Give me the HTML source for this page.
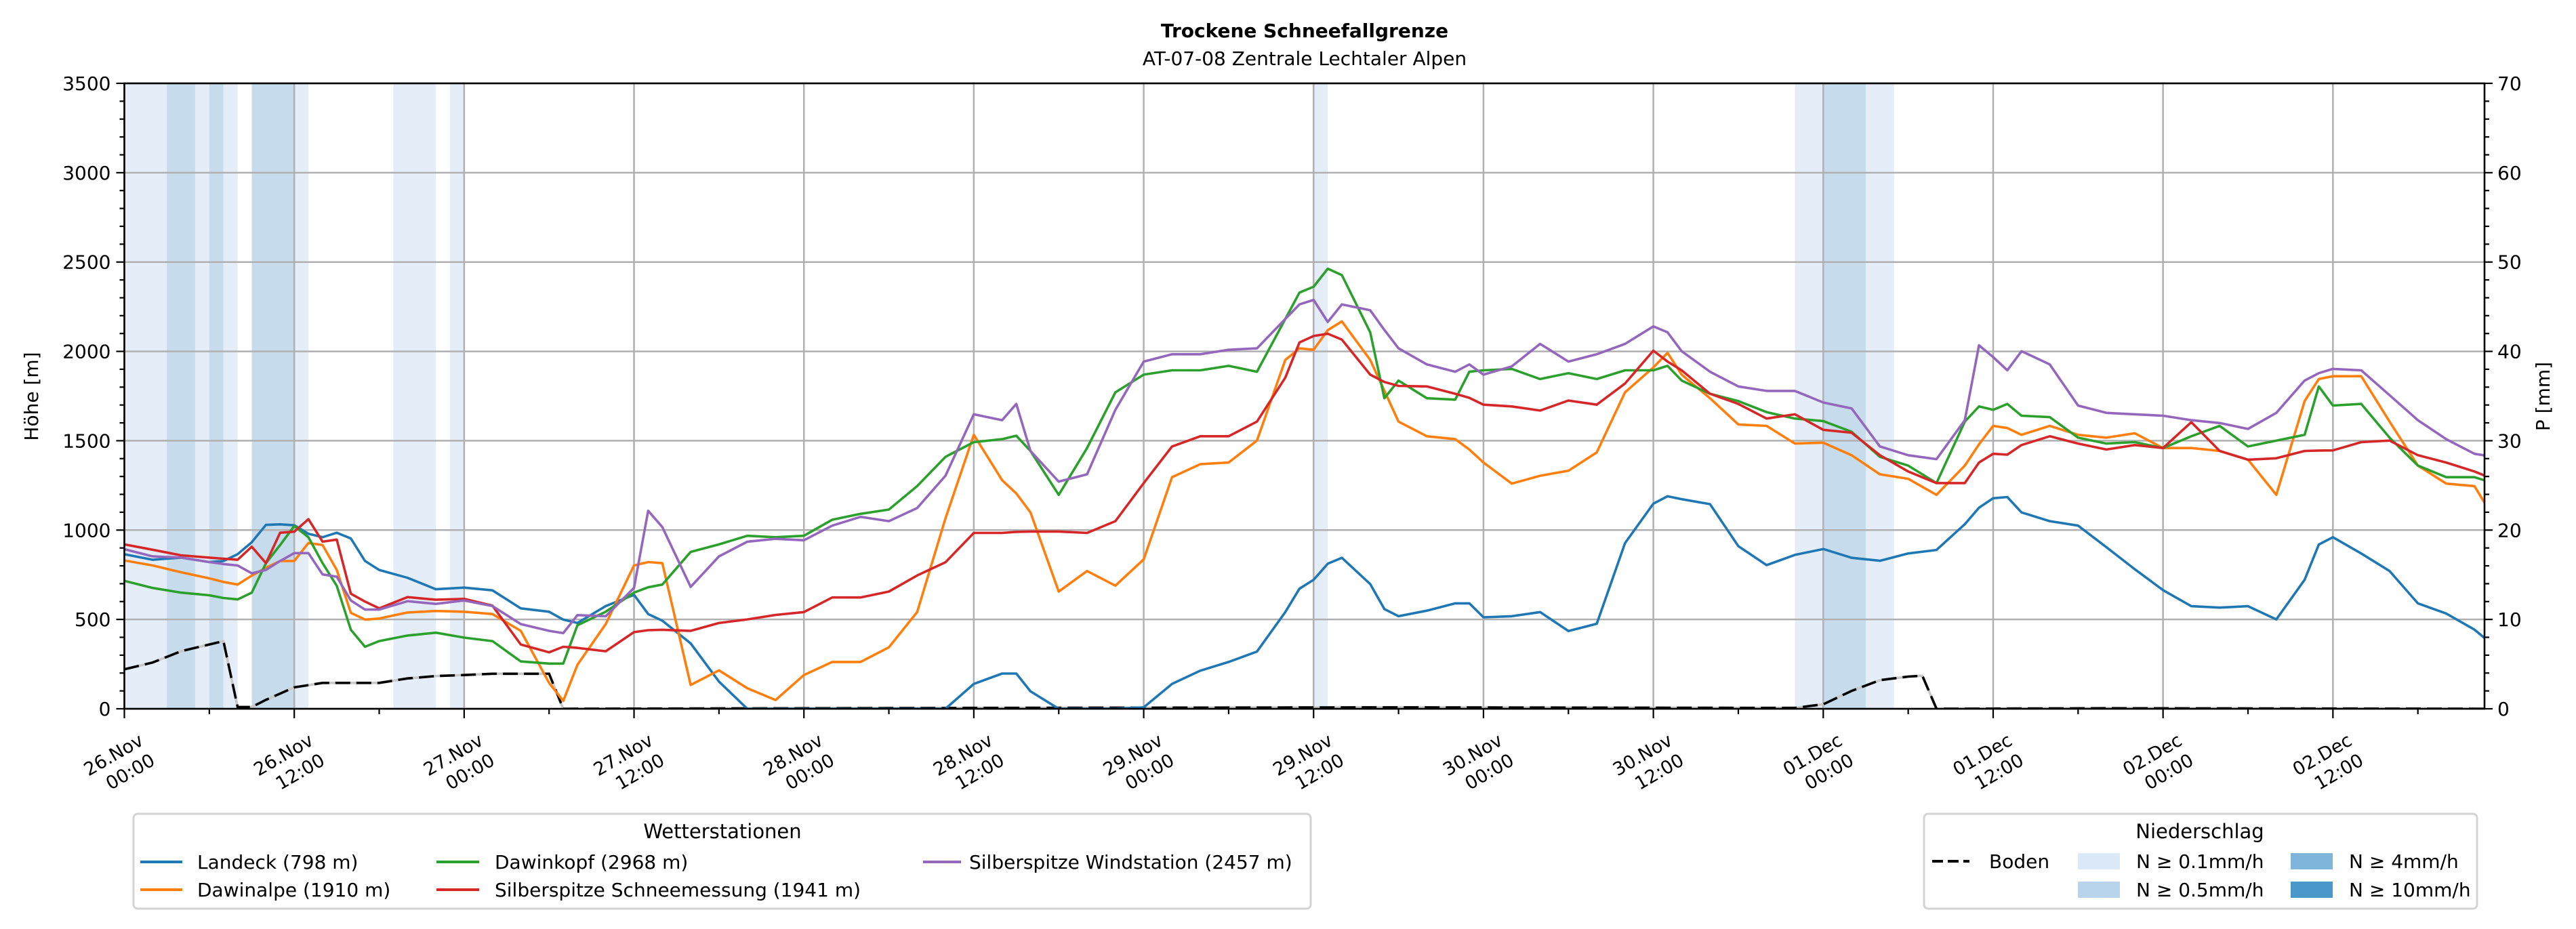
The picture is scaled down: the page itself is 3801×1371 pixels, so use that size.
<!DOCTYPE html>
<html><head><meta charset="utf-8"><title>Trockene Schneefallgrenze</title>
<style>
html,body{margin:0;padding:0;background:#fff;}
svg{display:block;font-family:"DejaVu Sans","Liberation Sans",sans-serif;}
</style></head>
<body>
<svg id="chart" width="3801" height="1371" viewBox="0 0 3801 1371" xmlns="http://www.w3.org/2000/svg">
<defs><clipPath id="plotclip"><rect x="183.5" y="123" width="3482.5" height="923"/></clipPath></defs>
<rect x="0" y="0" width="3801" height="1371" fill="#fff"/>
<g id="bands" clip-path="url(#plotclip)"></g>
<g id="grid"></g>
<g id="series" clip-path="url(#plotclip)"></g>
<g id="axes"></g>
<text x="1925" y="55" text-anchor="middle" font-size="28" font-weight="bold">Trockene Schneefallgrenze</text>
<text x="1925" y="96" text-anchor="middle" font-size="28">AT-07-08 Zentrale Lechtaler Alpen</text>
<text transform="translate(56,585) rotate(-90)" text-anchor="middle" font-size="28">Höhe [m]</text>
<text transform="translate(3762,585) rotate(-90)" text-anchor="middle" font-size="28">P [mm]</text>

<g>
<rect x="197" y="1201" width="1737" height="140" rx="6" fill="#fff" stroke="#d3d3d3" stroke-width="3"/>
<text x="1066" y="1237" text-anchor="middle" font-size="29">Wetterstationen</text>
<g><line x1="207" y1="1272" x2="269" y2="1272" stroke="#1f77b4" stroke-width="4"/><text x="291" y="1282" font-size="28">Landeck (798 m)</text></g>
<g><line x1="207" y1="1313" x2="269" y2="1313" stroke="#ff7f0e" stroke-width="4"/><text x="291" y="1323" font-size="28">Dawinalpe (1910 m)</text></g>
<g><line x1="644" y1="1272" x2="707" y2="1272" stroke="#2ca02c" stroke-width="4"/><text x="730" y="1282" font-size="28">Dawinkopf (2968 m)</text></g>
<g><line x1="644" y1="1313" x2="707" y2="1313" stroke="#d62728" stroke-width="4"/><text x="730" y="1323" font-size="28">Silberspitze Schneemessung (1941 m)</text></g>
<g><line x1="1362" y1="1272" x2="1418" y2="1272" stroke="#9467bd" stroke-width="4"/><text x="1430" y="1282" font-size="28">Silberspitze Windstation (2457 m)</text></g>
</g>

<g>
<rect x="2839" y="1201" width="816" height="140" rx="6" fill="#fff" stroke="#d3d3d3" stroke-width="3"/>
<text x="3246" y="1237" text-anchor="middle" font-size="29">Niederschlag</text>
<g><line x1="2851" y1="1271" x2="2906" y2="1271" stroke="#000" stroke-width="4" stroke-dasharray="16,7"/><text x="2935" y="1281" font-size="28">Boden</text></g>
<g><rect x="3066" y="1259" width="62" height="24" fill="#dbe9f6"/><text x="3152" y="1281" font-size="28">N ≥ 0.1mm/h</text></g>
<g><rect x="3066" y="1301" width="62" height="24" fill="#b8d4ea"/><text x="3152" y="1323" font-size="28">N ≥ 0.5mm/h</text></g>
<g><rect x="3380" y="1259" width="62" height="24" fill="#7fb5da"/><text x="3466" y="1281" font-size="28">N ≥ 4mm/h</text></g>
<g><rect x="3380" y="1301" width="62" height="24" fill="#4a97c9"/><text x="3466" y="1323" font-size="28">N ≥ 10mm/h</text></g>
</g>
</svg>
<script>
// ---- data ----
const hours = [0,2,4,6,7,8,9,10,11,12,13,14,15,16,17,18,
 20,22,24,26,28,30,31,32,34,36,37,38,40,42,
 44,46,48,50,52,54,56,58,60,62,63,64,66,68,70,72,74,76,78,80,82,83,
 84,85,86,88,89,90,92,94,95,96,98,100,102,104,106,108,109,110,112,114,116,118,120,122,124,
 126,128,130,131,132,133,134,136,138,140,142,144,146,148,150,152,154,155,156,158,160,162,164,166,167];
const landeck = [865,834,846,821,827,865,932,1029,1032,1027,979,960,985,953,827,777,
 733,669,678,663,562,543,499,480,575,638,530,493,366,152,
 0,0,0,0,0,0,0,0,139,197,197,98,0,0,0,8,139,213,262,320,541,672,
 722,812,845,698,558,518,549,590,590,512,518,541,435,476,927,1148,1189,1173,1145,910,804,861,894,845,828,
 869,889,1033,1125,1178,1185,1099,1050,1025,904,781,664,574,566,574,500,722,919,960,869,771,590,533,443,377];
const dawinalpe = [830,802,764,730,710,695,745,789,827,827,928,916,777,537,499,505,
 539,547,543,530,436,145,44,246,474,802,821,815,133,215,
 115,49,189,262,262,344,541,1066,1533,1279,1205,1099,656,771,689,836,1296,1369,1378,1501,1952,2017,
 2009,2119,2168,1952,1780,1607,1525,1509,1451,1378,1260,1304,1332,1435,1771,1910,1992,1870,1738,1591,1583,1484,1489,1419,1312,
 1287,1197,1361,1480,1583,1571,1533,1583,1533,1517,1542,1459,1459,1443,1394,1197,1722,1845,1861,1861,1607,1361,1260,1246,1115];
const dawinkopf = [716,676,650,635,620,612,650,815,916,1023,960,815,688,442,347,379,
 410,426,398,379,265,253,253,467,543,650,680,695,878,920,
 968,960,968,1058,1091,1115,1246,1410,1492,1509,1528,1443,1197,1459,1771,1870,1894,1894,1919,1886,2181,2329,
 2362,2463,2427,2107,1738,1837,1738,1730,1886,1894,1902,1845,1878,1845,1894,1894,1919,1837,1763,1722,1660,1624,1610,1550,1410,
 1361,1263,1607,1692,1673,1706,1640,1632,1517,1484,1492,1459,1525,1583,1468,1501,1533,1804,1697,1706,1517,1361,1296,1296,1271];
const schneemessung = [920,890,859,846,840,834,907,815,985,991,1061,935,947,644,600,562,
 625,610,615,577,360,316,347,341,322,429,440,442,436,480,
 500,525,541,623,623,656,746,820,984,984,990,992,992,984,1050,1263,1468,1525,1525,1607,1853,2050,
 2086,2099,2066,1870,1829,1807,1804,1763,1740,1702,1692,1669,1725,1702,1820,2004,1943,1894,1763,1706,1624,1648,1561,1545,1419,
 1328,1263,1263,1378,1427,1422,1476,1525,1484,1451,1476,1459,1604,1443,1394,1402,1443,1445,1446,1492,1501,1419,1378,1328,1296];
const windstation = [893,853,846,821,810,802,758,777,827,871,871,752,739,606,555,555,
 602,587,606,575,474,436,423,524,518,676,1108,1017,682,853,
 935,951,943,1025,1074,1050,1123,1304,1648,1615,1706,1443,1271,1312,1673,1943,1984,1984,2009,2017,2181,2263,
 2288,2165,2263,2230,2120,2017,1927,1886,1927,1870,1916,2042,1943,1984,2042,2140,2107,2001,1886,1804,1779,1779,1714,1681,1468,
 1419,1397,1615,2034,1968,1894,2001,1927,1697,1656,1648,1640,1615,1599,1566,1656,1837,1878,1902,1894,1755,1615,1509,1427,1414];
const bodenHours = [0,2,4,6,7,8,9,10,12,14,18,20,22,24,26,30,31,60,90,116,118,120,122,124,126,127,128,140,167];
const bodenValues = [221,259,322,360,379,10,10,50,120,145,145,170,183,189,196,196,0,5,8,5,5,25,100,160,180,185,0,3,0];
const lightBandStart = [0,5,7,12,19,23,84,118,123];
const lightBandEnd   = [3,6,8,13,22,24,85,120,125];
const darkBandStart = [3,6,9,120];
const darkBandEnd   = [5,7,12,123];
const yTicks = [0,500,1000,1500,2000,2500,3000,3500];
const y2Ticks = [0,10,20,30,40,50,60,70];
const xTickHours = [0,12,24,36,48,60,72,84,96,108,120,132,144,156];
const xTickDay = ["26.Nov","26.Nov","27.Nov","27.Nov","28.Nov","28.Nov","29.Nov","29.Nov","30.Nov","30.Nov","01.Dec","01.Dec","02.Dec","02.Dec"];
const xTickTime = ["00:00","12:00","00:00","12:00","00:00","12:00","00:00","12:00","00:00","12:00","00:00","12:00","00:00","12:00"];

// ---- axis functions ----
const L=183.5, R=3666, T=123, B=1046;
const PXH=20.89, YMAX=3500, Y2MAX=70;
const x = h => L + h*PXH;
const y = v => B - v*(B-T)/YMAX;
const y2 = v => B - v*(B-T)/Y2MAX;
const NS="http://www.w3.org/2000/svg";
function mk(tag, attrs, parent){const e=document.createElementNS(NS,tag);for(const k in attrs)e.setAttribute(k,attrs[k]);parent.appendChild(e);return e;}

// bands
const bands=document.getElementById('bands');
lightBandStart.forEach((s,i)=>{const r=mk('rect',{x:x(s),y:T,width:x(lightBandEnd[i])-x(s),height:B-T,fill:'#e5eef8'},bands);

});
darkBandStart.forEach((s,i)=>{const r=mk('rect',{x:x(s),y:T,width:x(darkBandEnd[i])-x(s),height:B-T,fill:'#c6dbec'},bands);

});

// grid
const grid=document.getElementById('grid');
yTicks.forEach(v=>{const l=mk('line',{x1:L,x2:R,y1:y(v),y2:y(v),stroke:'#b0b0b0','stroke-width':2.5},grid);

});
xTickHours.forEach(h=>{const l=mk('line',{x1:x(h),x2:x(h),y1:T,y2:B,stroke:'#b0b0b0','stroke-width':2.5},grid);

});

// series
const seriesG=document.getElementById('series');
function drawLine(hs, vs, color, extra){
  const pts=hs.map((h,i)=>x(h).toFixed(1)+','+y(vs[i]).toFixed(1)).join(' ');
  const attrs={points:pts,fill:'none',stroke:color,'stroke-width':3.6,'stroke-linejoin':'round'};
  if(extra)Object.assign(attrs,extra);
  return mk('polyline',attrs,seriesG);
}
let g;
g=drawLine(bodenHours,bodenValues,'#c8c8c8');


g=drawLine(bodenHours,bodenValues,'#000',{'stroke-dasharray':'22,9','stroke-linejoin':'miter'});


g=drawLine(hours,landeck,'#1f77b4');


g=drawLine(hours,dawinalpe,'#ff7f0e');


g=drawLine(hours,dawinkopf,'#2ca02c');


g=drawLine(hours,schneemessung,'#d62728');


g=drawLine(hours,windstation,'#9467bd');



// axes
const axes=document.getElementById('axes');
const frame=mk('rect',{x:L,y:T,width:R-L,height:B-T,fill:'none',stroke:'#000','stroke-width':2.6},axes);


for(let v=0;v<=YMAX;v+=100){const maj=v%500===0;const t=mk('line',{x1:L-(maj?12:7),x2:L,y1:y(v),y2:y(v),stroke:'#000','stroke-width':2.2},axes);

}
yTicks.forEach(v=>{const t=mk('text',{x:L-20,y:y(v)+10,'text-anchor':'end','font-size':28},axes);t.textContent=String(v);

});
for(let v=0;v<=Y2MAX;v+=2){const maj=v%10===0;const t=mk('line',{x1:R,x2:R+(maj?12:7),y1:y2(v),y2:y2(v),stroke:'#000','stroke-width':2.2},axes);

}
y2Ticks.forEach(v=>{const t=mk('text',{x:R+19,y:y2(v)+10,'font-size':28},axes);t.textContent=String(v);

});
for(let h=0;h<=166;h+=6){const maj=h%12===0;const t=mk('line',{x1:x(h),x2:x(h),y1:B,y2:B+(maj?14:8),stroke:'#000','stroke-width':2.2},axes);

}
xTickHours.forEach((h,i)=>{
  const t=mk('text',{transform:'translate('+(x(h)+30)+',1098) rotate(-30)','text-anchor':'end','font-size':27},axes);
  const a=mk('tspan',{x:0,y:0},t);a.textContent=xTickDay[i];
  const b=mk('tspan',{x:0,y:34},t);b.textContent=xTickTime[i];
  
  
});
</script>
</body></html>
